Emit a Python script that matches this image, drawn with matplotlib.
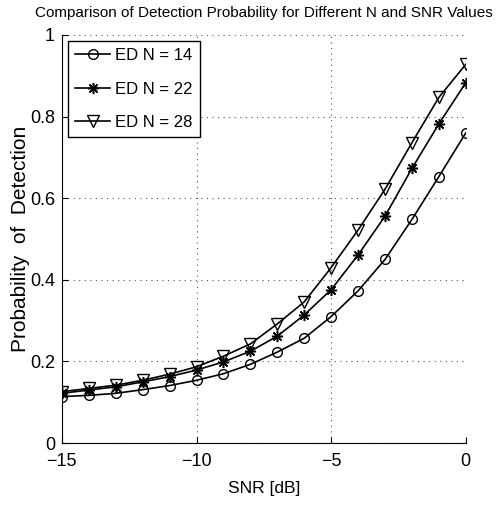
import numpy as np
import matplotlib
matplotlib.use('Agg')
import matplotlib.pyplot as plt

plt.rcParams['font.family'] = ['Liberation Sans', 'DejaVu Sans']

# SNR (dB) values on the x axis
snr_db = [-15, -14, -13, -12, -11, -10, -9, -8, -7, -6, -5, -4, -3, -2, -1, 0]

# detection probability
pd_n14 = [0.114, 0.117, 0.122, 0.131, 0.141, 0.154, 0.170, 0.193, 0.223, 0.257,
          0.310, 0.373, 0.450, 0.548, 0.653, 0.760]
pd_n22 = [0.122, 0.130, 0.138, 0.150, 0.163, 0.179, 0.199, 0.225, 0.262, 0.314,
          0.376, 0.461, 0.556, 0.673, 0.782, 0.883]
pd_n28 = [0.126, 0.134, 0.142, 0.154, 0.169, 0.187, 0.213, 0.243, 0.292, 0.346,
          0.430, 0.522, 0.622, 0.736, 0.847, 0.928]

series_labels = ['ED N = 14', 'ED N = 22', 'ED N = 28']
x_ticks = [-15, -10, -5, 0]
y_ticks = [0, 0.2, 0.4, 0.6, 0.8, 1]

fig = plt.figure(figsize=(5.03, 5.07), dpi=100)
ax = fig.add_axes([0.123, 0.126, 0.803, 0.805])

ax.plot(snr_db, pd_n14, 'k-', marker='o', mfc='none', ms=7, lw=1.2, label=series_labels[0])
# MATLAB '*' marker is an asterisk, not a filled star
ax.plot(snr_db, pd_n22, 'k-', marker=(8, 2, 0), ms=8, mew=1.1, lw=1.2, label=series_labels[1])
ax.plot(snr_db, pd_n28, 'k-', marker='v', mfc='none', ms=8, lw=1.2, label=series_labels[2])

ax.set_xlim(-15, 0)
ax.set_ylim(0, 1)
ax.set_xticks(x_ticks)
ax.set_xticklabels(['\u221215', '\u221210', '\u22125', '0'])
ax.set_yticks(y_ticks)
ax.set_yticklabels(['0', '0.2', '0.4', '0.6', '0.8', '1'])
ax.tick_params(direction='in', length=4, labelsize=13, colors='black')
ax.tick_params(axis='x', pad=7)
ax.tick_params(axis='y', pad=5)

# MATLAB style dotted grid, no box
ax.grid(True, linestyle=(0, (1, 4)), color='#555555', linewidth=0.8)
ax.spines['top'].set_visible(False)
ax.spines['right'].set_visible(False)

ax.set_xlabel('SNR [dB]', fontsize=12.5, labelpad=8)
ax.set_ylabel('Probability  of  Detection', fontsize=15, labelpad=0)
ax.set_title('Comparison of Detection Probability for Different N and SNR Values',
             fontsize=11, pad=13)

leg = ax.legend(loc='upper left', fontsize=12, fancybox=False, edgecolor='black',
                framealpha=1, handlelength=2.1, handletextpad=0.3,
                borderaxespad=0.35, borderpad=0.45, labelspacing=1.1)
leg.get_frame().set_linewidth(1.0)

fig.savefig('out.png', dpi=100)
